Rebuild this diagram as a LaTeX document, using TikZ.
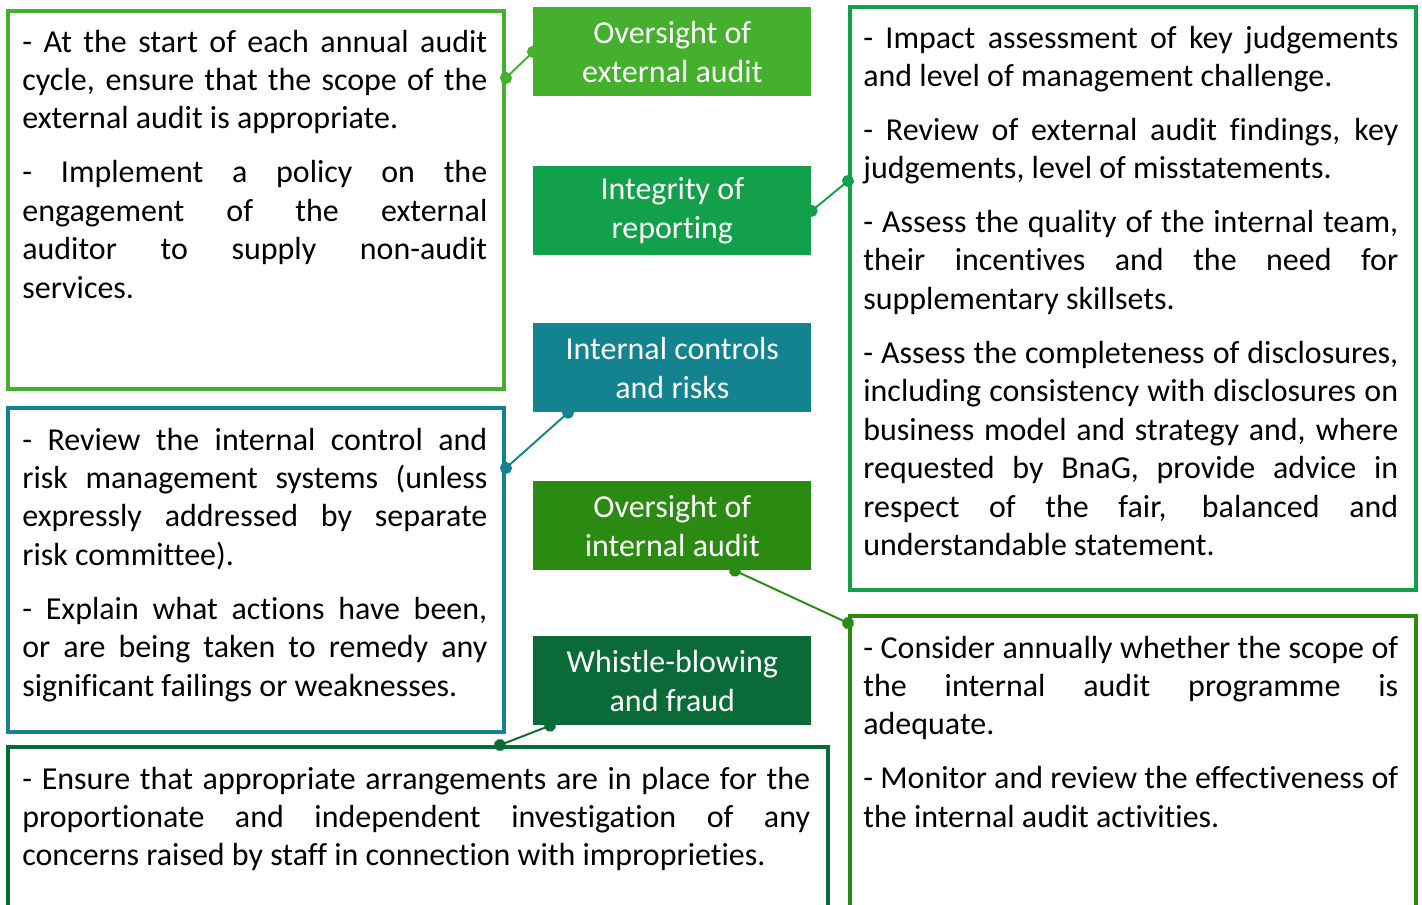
\documentclass[tikz,border=0pt]{standalone}
\usepackage{fontspec}
\setmainfont{Carlito}[Ligatures=NoCommon]
\usepackage{xcolor}
\usetikzlibrary{positioning,calc,arrows.meta}

\definecolor{extgreen}{HTML}{44B02E}
\definecolor{repgreen}{HTML}{12A04A}
\definecolor{ctrlteal}{HTML}{12838F}
\definecolor{intgreen}{HTML}{2A8A12}
\definecolor{fraudgreen}{HTML}{0A6B39}

\newcommand{\itemgap}{\par\vspace{8.7pt}}
\hyphenpenalty=10000
\exhyphenpenalty=10000

\begin{document}
\begin{tikzpicture}[x=0.02cm, y=-0.02cm,
    outbox/.style={draw=#1, line width=2.3pt, anchor=north west, inner sep=0pt},
    headbox/.style={fill=#1, text=white, anchor=north west, minimum width=5.56cm,
        minimum height=1.78cm, inner sep=0pt, align=center,
        font=\fontsize{18.2}{21.9}\selectfont},
    body/.style={anchor=base west, inner sep=0pt, text width=#1, align=justify,
        font=\fontsize{18.2}{21.9}\selectfont},
    link/.style={draw=#1, line width=1.1pt, {Circle[length=0.24cm]}-{Circle[length=0.24cm]},
        shorten <=-0.12cm, shorten >=-0.12cm}]
    \useasboundingbox (0,0) rectangle (1422,904);
    \clip (0,0) rectangle (1422,904);

    % Outlined boxes
    \node [outbox=extgreen, minimum width=9.92cm, minimum height=7.56cm] (extaud) at (6,9) {};
    \node [outbox=ctrlteal, minimum width=9.92cm, minimum height=6.48cm] (ctrlbox) at (6,406) {};
    \node [outbox=fraudgreen, minimum width=16.4cm, minimum height=4.3cm] (fraudbox) at (6,745) {};
    \node [outbox=repgreen, minimum width=11.32cm, minimum height=11.66cm] (repbox) at (848,5) {};
    \node [outbox=intgreen, minimum width=11.32cm, minimum height=6.92cm] (intbox) at (848,614) {};

    % Headings in the middle
    \foreach \y/\name/\col/\txt in {
        7/oext/extgreen/Oversight of\\external audit,
        166/integ/repgreen/Integrity of\\reporting,
        323/ictrl/ctrlteal/Internal controls\\and risks,
        481/oint/intgreen/Oversight of\\internal audit,
        636/whist/fraudgreen/Whistle-blowing\\and fraud} {
        \node [headbox=\col] (\name) at (533,\y) {\txt};
    }

    % Texts
    \node [body=9.3cm] (extaudtxt) at (22,52) {- At the start of each annual audit\linebreak
        cycle, ensure that the scope of the\linebreak external audit is appropriate.\itemgap
        - Implement a policy on the\linebreak engagement of the external\linebreak
        auditor to supply non-audit\linebreak services.};
    \node [body=9.3cm] (ctrltxt) at (22,450) {- Review the internal control and\linebreak
        risk management systems (unless\linebreak expressly addressed by separate\linebreak
        risk committee).\itemgap
        - Explain what actions have been,\linebreak or are being taken to remedy any\linebreak
        significant failings or weaknesses.};
    \node [body=15.76cm] (fraudtxt) at (22,789) {- Ensure that appropriate arrangements are in place for the\linebreak
        proportionate and independent investigation of any\linebreak
        concerns raised by staff in connection with improprieties.};
    \node [body=10.7cm] (reptxt) at (863,48) {- Impact assessment of key judgements\linebreak
        and level of management challenge.\itemgap
        - Review of external audit findings, key\linebreak judgements, level of misstatements.\itemgap
        - Assess the quality of the internal team,\linebreak their incentives and the need for\linebreak
        supplementary skillsets.\itemgap
        - Assess the completeness of disclosures,\linebreak including consistency with disclosures on\linebreak
        business model and strategy and, where\linebreak requested by BnaG, provide advice in\linebreak
        respect of the fair, balanced and\linebreak understandable statement.};
    \node [body=10.7cm] (inttxt) at (863,658) {- Consider annually whether the scope of\linebreak
        the internal audit programme is\linebreak adequate.\itemgap
        - Monitor and review the effectiveness of\linebreak the internal audit activities.};

    % Links
    \draw [link=extgreen] (oext.west) -- ([yshift=-1.38cm]extaud.north east);
    \draw [link=repgreen] (integ.east) -- ([yshift=-3.52cm]repbox.north west);
    \draw [link=ctrlteal] ([xshift=0.7cm]ictrl.south west) -- ([yshift=-1.24cm]ctrlbox.north east);
    \draw [link=intgreen] ([xshift=4.04cm]oint.south west) -- ([yshift=-0.18cm]intbox.north west);
    \draw [link=fraudgreen] ([xshift=0.34cm]whist.south west) -- ([xshift=9.88cm]fraudbox.north west);
\end{tikzpicture}
\end{document}
